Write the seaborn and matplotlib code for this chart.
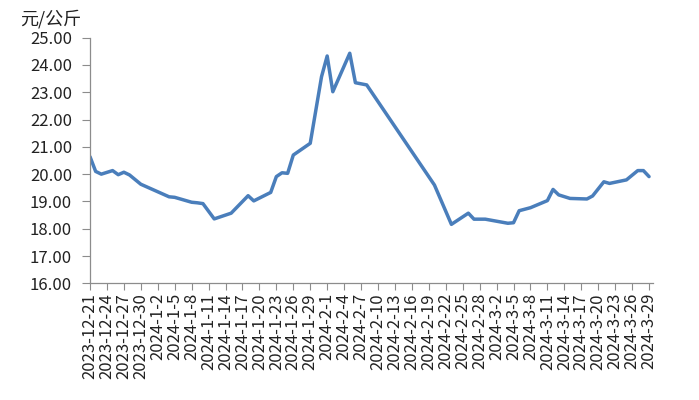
import matplotlib
matplotlib.use("Agg")
import matplotlib.pyplot as plt
import seaborn as sns
import pandas as pd

# ---- data ----
dates = [
    "2023-12-21", "2023-12-22", "2023-12-23", "2023-12-25", "2023-12-26",
    "2023-12-27", "2023-12-28", "2023-12-30", "2024-1-4", "2024-1-5",
    "2024-1-8", "2024-1-9", "2024-1-10", "2024-1-12", "2024-1-15",
    "2024-1-18", "2024-1-19", "2024-1-22", "2024-1-23", "2024-1-24",
    "2024-1-25", "2024-1-26", "2024-1-29", "2024-1-31", "2024-2-1",
    "2024-2-2", "2024-2-5", "2024-2-6", "2024-2-8", "2024-2-20",
    "2024-2-23", "2024-2-26", "2024-2-27", "2024-2-29", "2024-3-4",
    "2024-3-5", "2024-3-6", "2024-3-8", "2024-3-11", "2024-3-12",
    "2024-3-13", "2024-3-15", "2024-3-18", "2024-3-19", "2024-3-21",
    "2024-3-22", "2024-3-25", "2024-3-27", "2024-3-28", "2024-3-29",
]
prices = [
    20.64, 20.10, 20.00, 20.13, 19.98,
    20.07, 19.97, 19.63, 19.17, 19.15,
    18.97, 18.95, 18.92, 18.36, 18.57,
    19.21, 19.02, 19.33, 19.91, 20.05,
    20.03, 20.70, 21.13, 23.57, 24.33,
    23.02, 24.43, 23.35, 23.27, 19.60,
    18.16, 18.57, 18.35, 18.35, 18.20,
    18.22, 18.66, 18.77, 19.03, 19.44,
    19.24, 19.11, 19.09, 19.20, 19.72,
    19.66, 19.79, 20.13, 20.13, 19.91,
]
tick_labels = [
    "2023-12-21", "2023-12-24", "2023-12-27", "2023-12-30", "2024-1-2",
    "2024-1-5", "2024-1-8", "2024-1-11", "2024-1-14", "2024-1-17",
    "2024-1-20", "2024-1-23", "2024-1-26", "2024-1-29", "2024-2-1",
    "2024-2-4", "2024-2-7", "2024-2-10", "2024-2-13", "2024-2-16",
    "2024-2-19", "2024-2-22", "2024-2-25", "2024-2-28", "2024-3-2",
    "2024-3-5", "2024-3-8", "2024-3-11", "2024-3-14", "2024-3-17",
    "2024-3-20", "2024-3-23", "2024-3-26", "2024-3-29",
]
y_ticks = [16, 17, 18, 19, 20, 21, 22, 23, 24, 25]
unit_label = "元/公斤"

# ---- style ----
sns.set_style("ticks")
plt.rcParams['font.family'] = ['Noto Sans CJK SC', 'DejaVu Sans']

df = pd.DataFrame({"date": pd.to_datetime(dates, format="%Y-%m-%d"),
                   "price": prices})

fig = plt.figure(figsize=(6.99, 4.0), dpi=100)
ax = fig.add_axes([90 / 699, 1 - 283.3 / 400, (653 - 90) / 699, (283.3 - 37.7) / 400])

sns.lineplot(data=df, x="date", y="price", ax=ax, color="#4a7ebb",
             linewidth=2.5, solid_joinstyle="round", solid_capstyle="round")

tick_pos = pd.to_datetime(tick_labels, format="%Y-%m-%d")
ax.set_xticks(tick_pos)
ax.set_xticklabels(tick_labels, rotation=90, fontsize=12, color="#222222")
start = tick_pos[0]
ax.set_xlim(start, start + pd.Timedelta(days=99.7))

ax.set_ylim(16, 25)
ax.set_yticks(y_ticks)
ax.set_yticklabels([f"{v:.2f}" for v in y_ticks], fontsize=12, color="#222222")

ax.set_xlabel("")
ax.set_ylabel("")
for s in ["top", "right"]:
    ax.spines[s].set_visible(False)
for s in ["left", "bottom"]:
    ax.spines[s].set_color("#8c8c8c")
    ax.spines[s].set_linewidth(0.9)
ax.tick_params(axis="y", length=6, width=0.8, color="#8c8c8c", pad=7)
ax.tick_params(axis="x", length=5, width=0.8, color="#8c8c8c", pad=2)
ax.grid(False)

fig.text(20 / 699, 1 - 19.5 / 400, unit_label, ha="left", va="center",
         fontsize=13, color="#222222")

fig.savefig("out.png", dpi=100)
